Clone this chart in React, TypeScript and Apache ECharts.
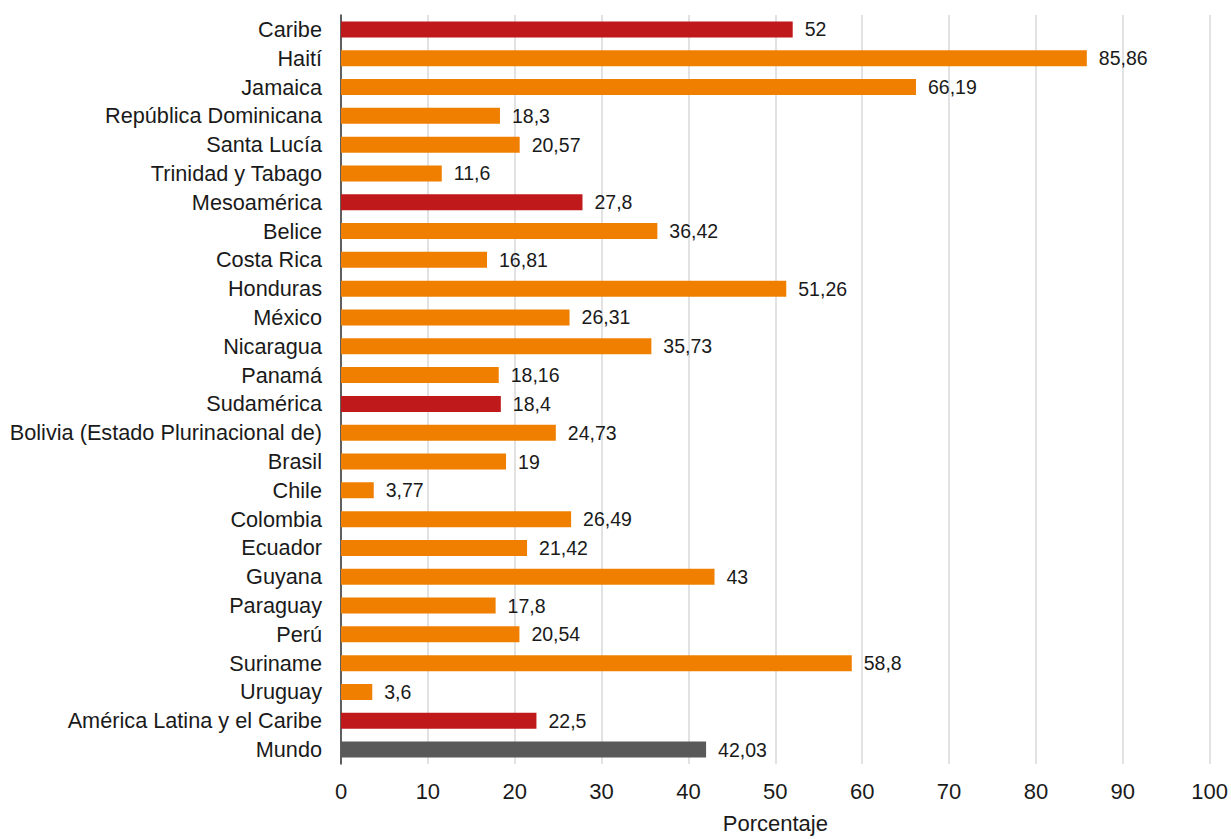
import React, { useEffect, useRef } from "react";
import * as echarts from "echarts";

const categories = [
  "Caribe", "Haití", "Jamaica", "República Dominicana", "Santa Lucía", "Trinidad y Tabago",
  "Mesoamérica", "Belice", "Costa Rica", "Honduras", "México", "Nicaragua", "Panamá",
  "Sudamérica", "Bolivia (Estado Plurinacional de)", "Brasil", "Chile", "Colombia", "Ecuador",
  "Guyana", "Paraguay", "Perú", "Suriname", "Uruguay", "América Latina y el Caribe", "Mundo",
];
const values = [
  52, 85.86, 66.19, 18.3, 20.57, 11.6,
  27.8, 36.42, 16.81, 51.26, 26.31, 35.73, 18.16,
  18.4, 24.73, 19, 3.77, 26.49, 21.42, 43, 17.8, 20.54, 58.8, 3.6, 22.5, 42.03,
];
const kinds = [
  "region", "country", "country", "country", "country", "country",
  "region", "country", "country", "country", "country", "country", "country",
  "region", "country", "country", "country", "country", "country", "country", "country", "country", "country", "country",
  "region", "world",
];
const xTicks = [0, 10, 20, 30, 40, 50, 60, 70, 80, 90, 100];
const colorByKind: Record<string, string> = {
  region: "#C0191C",
  country: "#F07F00",
  world: "#595959",
};

export default function App() {
  const ref = useRef<HTMLDivElement>(null);
  useEffect(() => {
    if (!ref.current) return;
    const chart = echarts.init(ref.current, undefined, { renderer: "svg" });
    const font = "'Liberation Sans', Arial, sans-serif";
    chart.setOption({
      animation: false,
      grid: { left: 341, right: 20, top: 15, bottom: 72, containLabel: false },
      xAxis: {
        type: "value",
        min: xTicks[0],
        max: xTicks[xTicks.length - 1],
        interval: 10,
        name: "Porcentaje",
        nameLocation: "middle",
        nameGap: 48,
        nameTextStyle: { fontFamily: font, fontSize: 22, color: "#1a1a1a" },
        axisLine: { show: false },
        axisTick: { show: false },
        axisLabel: { fontFamily: font, fontSize: 22, color: "#1a1a1a", margin: 16 },
        splitLine: { show: true, lineStyle: { color: "#d9d9d9", width: 1.5 } },
      },
      yAxis: {
        type: "category",
        data: categories,
        inverse: true,
        axisLine: { show: true, lineStyle: { color: "#333333", width: 1.5 } },
        axisTick: { show: false },
        axisLabel: { fontFamily: font, fontSize: 21.7, color: "#1a1a1a", margin: 19 },
        splitLine: { show: false },
      },
      series: [
        {
          type: "bar",
          barWidth: 16,
          data: values.map((v, i) => ({
            value: v,
            itemStyle: { color: colorByKind[kinds[i]] },
          })),
          label: {
            show: true,
            position: "right",
            distance: 12,
            fontFamily: font,
            fontSize: 19.5,
            color: "#1a1a1a",
            formatter: (p: any) => String(p.value).replace(".", ","),
          },
        },
      ],
    });
    return () => chart.dispose();
  }, []);
  return (
    <div
      ref={ref}
      style={{ position: "absolute", left: 0, top: 0, width: 1231, height: 839, background: "#fff" }}
    />
  );
}
